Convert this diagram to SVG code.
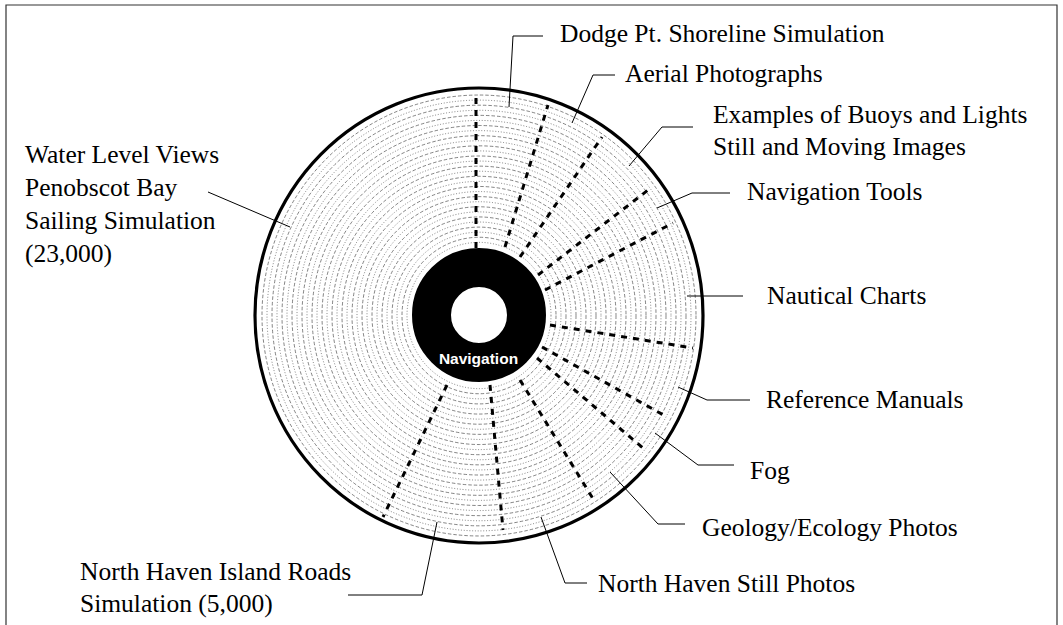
<svg xmlns="http://www.w3.org/2000/svg" width="1063" height="625" viewBox="0 0 1063 625">
<style>
.lbl{font-family:"Liberation Serif","Times New Roman",serif;font-size:25.5px;fill:#000}
.lead{fill:none;stroke:#000;stroke-width:1}
.spoke{stroke:#000;stroke-width:3;stroke-dasharray:6 6;fill:none}
.ra{fill:none;stroke:#333;stroke-width:0.6;stroke-dasharray:1 1.8}
.rb{fill:none;stroke:#333;stroke-width:0.6;stroke-dasharray:3.5 2}
</style>
<rect width="1063" height="625" fill="#fff"/>
<path d="M6,625 V5 H1057 V625" fill="none" stroke="#333" stroke-width="1.2"/>
<g id="wheel">
<g transform="translate(479,315.5) scale(1,1.016)">
<circle class="ra" r="72"/><circle class="rb" r="77"/><circle class="ra" r="82"/><circle class="rb" r="87"/><circle class="ra" r="92"/><circle class="rb" r="97"/><circle class="ra" r="102"/><circle class="rb" r="107"/><circle class="ra" r="112"/><circle class="rb" r="117"/><circle class="ra" r="122"/><circle class="rb" r="127"/><circle class="ra" r="132"/><circle class="rb" r="137"/><circle class="ra" r="142"/><circle class="rb" r="147"/><circle class="ra" r="152"/><circle class="rb" r="157"/><circle class="ra" r="162"/><circle class="rb" r="167"/><circle class="ra" r="172"/><circle class="rb" r="177"/><circle class="ra" r="182"/><circle class="rb" r="187"/><circle class="ra" r="192"/><circle class="rb" r="197"/><circle class="ra" r="202"/><circle class="rb" r="207"/><circle class="ra" r="212"/><circle class="rb" r="217"/>
</g>
<ellipse cx="479" cy="315.5" rx="224" ry="227.5" fill="none" stroke="#000" stroke-width="3.2"/>
<g id="spokes">
<line class="spoke" x1="476" y1="248" x2="476" y2="92"/>
<line class="spoke" x1="505" y1="247" x2="548" y2="105"/>
<line class="spoke" x1="520" y1="257" x2="602" y2="137"/>
<line class="spoke" x1="538" y1="275" x2="652" y2="187"/>
<line class="spoke" x1="545" y1="290" x2="673" y2="223"/>
<line class="spoke" x1="550" y1="325" x2="693" y2="348"/>
<line class="spoke" x1="542" y1="347" x2="667" y2="417"/>
<line class="spoke" x1="537" y1="358" x2="643" y2="448"/>
<line class="spoke" x1="520" y1="380" x2="595" y2="502"/>
<line class="spoke" x1="490" y1="385" x2="503" y2="530"/>
<line class="spoke" x1="447" y1="385" x2="383" y2="517"/>
</g>
</g>
<g id="hub">
<circle cx="479" cy="315" r="47.5" fill="none" stroke="#000" stroke-width="39"/>
<text x="478.5" y="364" text-anchor="middle" font-family="'Liberation Sans',Arial,sans-serif" font-weight="bold" font-size="15.5" fill="#fff">Navigation</text>
</g>
<g id="connectors">
<polyline class="lead" points="509,107 513,36 543,36"/>
<polyline class="lead" points="572,123 593,75 615,75"/>
<polyline class="lead" points="629,166 662,127 693,127"/>
<polyline class="lead" points="657,208 692,193 730,193"/>
<polyline class="lead" points="687,296 743,296"/>
<polyline class="lead" points="678,387 707,400 750,400"/>
<polyline class="lead" points="655,433 698,465 734,465"/>
<polyline class="lead" points="610,472 658,524 685,524"/>
<polyline class="lead" points="541,517 565,583 587,583"/>
<polyline class="lead" points="437,522 422,595 348,595"/>
<polyline class="lead" points="208,192 290,227"/>
</g>
<g id="n-dodge"><text class="lbl" x="560" y="42">Dodge Pt. Shoreline Simulation</text></g>
<g id="n-aerial"><text class="lbl" x="625" y="82">Aerial Photographs</text></g>
<g id="n-buoys"><text class="lbl" x="713" y="123">Examples of Buoys and Lights</text><text class="lbl" x="713" y="155">Still and Moving Images</text></g>
<g id="n-tools"><text class="lbl" x="747" y="200">Navigation Tools</text></g>
<g id="n-charts"><text class="lbl" x="767" y="304">Nautical Charts</text></g>
<g id="n-manuals"><text class="lbl" x="766" y="408">Reference Manuals</text></g>
<g id="n-fog"><text class="lbl" x="750" y="479">Fog</text></g>
<g id="n-geology"><text class="lbl" x="702" y="536">Geology/Ecology Photos</text></g>
<g id="n-still"><text class="lbl" x="598" y="592">North Haven Still Photos</text></g>
<g id="n-roads"><text class="lbl" x="80" y="580">North Haven Island Roads</text><text class="lbl" x="80" y="612">Simulation (5,000)</text></g>
<g id="n-water"><text class="lbl" x="25" y="163">Water Level Views</text><text class="lbl" x="25" y="196">Penobscot Bay</text><text class="lbl" x="25" y="229">Sailing Simulation</text><text class="lbl" x="25" y="262">(23,000)</text></g>
</svg>
